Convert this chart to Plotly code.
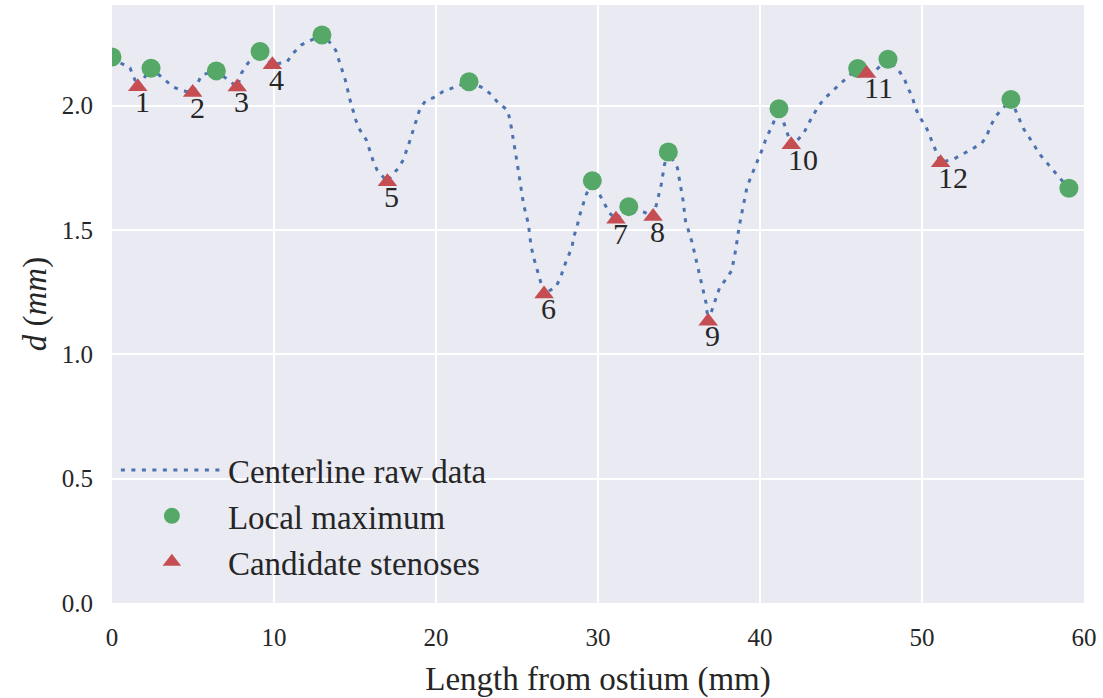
import plotly.graph_objects as go

# Centerline raw data (length mm, diameter mm)
raw_x = [0, 0.49, 1.11, 1.59, 2.41, 3.27, 3.77, 4.32, 4.98, 5.55, 6.44, 7.4, 7.73, 8.0, 8.4,
         9.14, 9.9, 10.8, 11.2, 11.7, 12.96, 13.4, 13.8, 14.0, 14.4, 14.7, 15.06, 15.3, 15.7,
         16.1, 16.36, 17.0, 17.2, 17.64, 17.98, 18.4, 18.8, 19.0, 19.34, 19.88, 20.43, 21.05,
         22.04, 22.9, 23.4, 23.83, 24.4, 24.57, 24.8, 25.0, 25.2, 25.4, 25.7, 25.86, 26.0, 26.2,
         26.4, 26.67, 27.4, 27.7, 27.9, 28.15, 28.4, 28.5, 28.7, 28.85, 29.07, 29.26, 29.65,
         30.1, 30.7, 31.11, 31.9, 32.8, 33.4, 33.6, 33.9, 34.1, 34.34, 34.9, 35.17, 35.25, 35.4,
         35.8, 36.1, 36.4, 36.67, 36.8, 37.1, 37.5, 37.9, 38.25, 38.5, 38.7, 38.95, 39.2, 39.44,
         39.7, 39.94, 40.2, 40.4, 40.72, 41.17, 41.4, 41.65, 41.93, 42.2, 42.7, 43.0, 43.3, 43.6,
         44.0, 44.5, 45.06, 45.55, 46.03, 46.58, 47.2, 47.9, 48.5, 48.9, 49.1, 49.4, 49.6, 49.9,
         50.25, 50.5, 50.75, 51.15, 52.0, 52.6, 53.15, 53.7, 54.0, 54.2, 54.57, 55.49, 55.99,
         56.25, 56.6, 56.95, 57.3, 57.74, 58.2, 58.6, 59.07]
raw_d = [2.196, 2.173, 2.152, 2.076, 2.151, 2.104, 2.076, 2.06, 2.053, 2.124, 2.140, 2.092, 2.075,
         2.132, 2.172, 2.218, 2.165, 2.176, 2.212, 2.245, 2.284, 2.258, 2.224, 2.184, 2.104, 2.021,
         1.940, 1.903, 1.862, 1.782, 1.742, 1.694, 1.715, 1.746, 1.782, 1.862, 1.943, 1.986, 2.019,
         2.033, 2.057, 2.073, 2.096, 2.072, 2.045, 2.012, 1.983, 1.943, 1.858, 1.774, 1.689, 1.605,
         1.525, 1.44, 1.396, 1.352, 1.311, 1.243, 1.271, 1.311, 1.352, 1.392, 1.432, 1.472, 1.512,
         1.555, 1.597, 1.641, 1.698, 1.645, 1.569, 1.543, 1.594, 1.573, 1.554, 1.601, 1.681, 1.762,
         1.814, 1.75, 1.661, 1.62, 1.537, 1.452, 1.368, 1.287, 1.207, 1.133, 1.187, 1.267, 1.303,
         1.336, 1.42, 1.508, 1.593, 1.673, 1.714, 1.754, 1.794, 1.834, 1.874, 1.913, 1.988, 1.943,
         1.903, 1.843, 1.854, 1.889, 1.929, 1.966, 1.998, 2.03, 2.061, 2.092, 2.124, 2.150, 2.130,
         2.146, 2.187, 2.147, 2.11, 2.076, 2.035, 1.99, 1.95, 1.915, 1.875, 1.838, 1.771, 1.787,
         1.807, 1.828, 1.85, 1.878, 1.915, 1.959, 2.025, 1.947, 1.909, 1.874, 1.838, 1.802, 1.768,
         1.735, 1.702, 1.668]

# Local maxima
max_x = [0, 2.41, 6.44, 9.14, 12.96, 22.04, 29.65, 31.9, 34.34, 41.17, 46.03, 47.9, 55.49, 59.07]
max_d = [2.196, 2.151, 2.140, 2.218, 2.284, 2.096, 1.698, 1.594, 1.814, 1.988, 2.150, 2.187, 2.025, 1.668]

# Candidate stenoses
sten_x = [1.59, 4.98, 7.73, 9.90, 17.0, 26.67, 31.11, 33.4, 36.8, 41.93, 46.58, 51.15]
sten_d = [2.076, 2.053, 2.075, 2.165, 1.694, 1.243, 1.543, 1.554, 1.133, 1.843, 2.130, 1.771]
sten_labels = [str(i + 1) for i in range(len(sten_x))]

x_ticks = [0, 10, 20, 30, 40, 50, 60]
y_ticks = [0.0, 0.5, 1.0, 1.5, 2.0]

FONT = "Liberation Serif"
TXT = "#262626"

fig = go.Figure()
fig.add_trace(go.Scatter(
    x=raw_x, y=raw_d, mode="lines", name="Centerline raw data",
    line=dict(color="#4C72B0", width=3, dash="4px,6.5px"), legendgroup="a"))
fig.add_trace(go.Scatter(
    x=max_x, y=max_d, mode="markers", name="Local maximum",
    marker=dict(color="#55A868", size=19, symbol="circle", line=dict(width=0)),
    legendgroup="b"))
fig.add_trace(go.Scatter(
    x=sten_x, y=sten_d, mode="markers", name="Candidate stenoses",
    marker=dict(color="#C44E52", size=17, symbol="triangle-up", line=dict(width=0)),
    legendgroup="c"))

for x, y, t in zip(sten_x, sten_d, sten_labels):
    fig.add_annotation(x=x, y=y, text=t, showarrow=False, xanchor="left", yanchor="top",
                       xshift=-5, yshift=4, font=dict(family=FONT, size=30, color=TXT))

fig.update_layout(
    width=1103, height=698,
    margin=dict(l=112, r=19, t=5, b=95),
    paper_bgcolor="white", plot_bgcolor="#EAEAF2",
    font=dict(family=FONT, color=TXT),
    showlegend=True,
    legend=dict(x=0.004, y=0.1455, xanchor="left", yanchor="middle",
                bgcolor="rgba(0,0,0,0)", font=dict(family=FONT, size=33, color=TXT),
                tracegroupgap=0, itemwidth=102),
)
fig.update_xaxes(range=[0, 60], tickvals=x_ticks, ticktext=[str(v) for v in x_ticks],
                 showgrid=True, gridcolor="white", gridwidth=2, zeroline=False,
                 ticks="", showline=False, tickfont=dict(family=FONT, size=25, color=TXT),
                 ticklabelstandoff=17,
                 title=dict(text="Length from ostium (mm)", font=dict(family=FONT, size=33, color=TXT),
                            standoff=18))
fig.update_yaxes(range=[0, 2.405], tickvals=y_ticks, ticktext=["%.1f" % v for v in y_ticks],
                 showgrid=True, gridcolor="white", gridwidth=2, zeroline=False,
                 ticks="", showline=False, tickfont=dict(family=FONT, size=25, color=TXT),
                 ticklabelstandoff=18,
                 title=dict(text="<i>d</i> (<i>mm</i>)", font=dict(family=FONT, size=33, color=TXT),
                            standoff=5))

fig.write_html("out.html", config={"displayModeBar": False},
               post_script="document.body.style.margin='0';")
